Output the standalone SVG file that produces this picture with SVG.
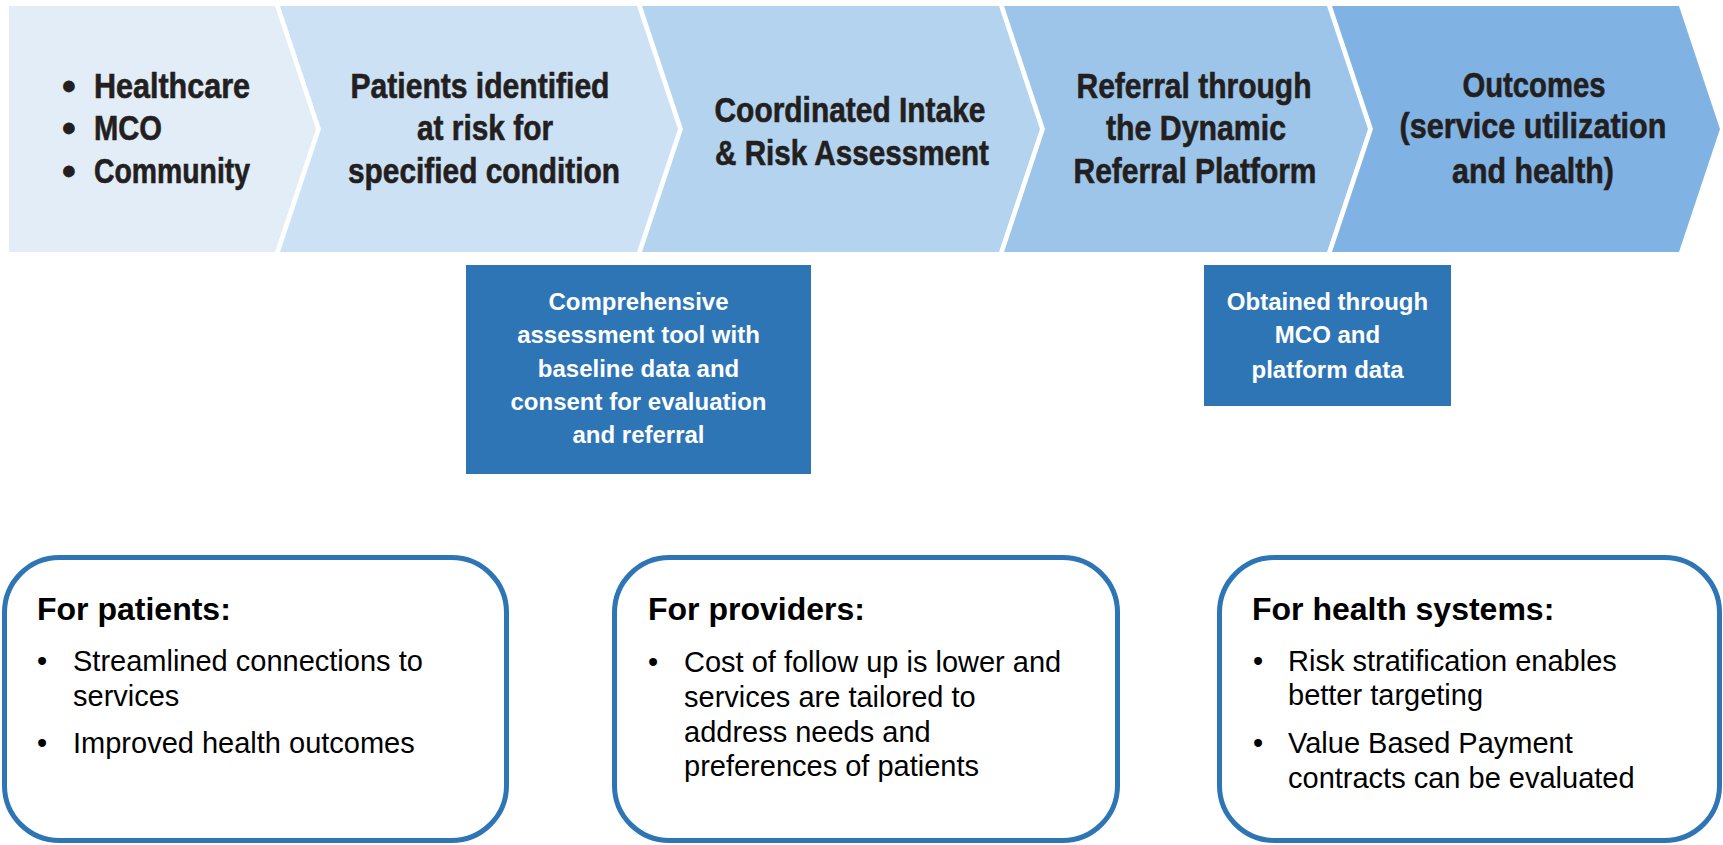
<svg xmlns="http://www.w3.org/2000/svg" width="1723" height="845" viewBox="0 0 1723 845">
<style>
.chev-t{font-family:"Liberation Sans",Arial,sans-serif;font-weight:bold;font-size:35px;fill:#231F20;stroke:#231F20;stroke-width:0.6px;text-anchor:middle}
.chev-b{font-family:"Liberation Sans",Arial,sans-serif;font-weight:bold;font-size:35px;fill:#231F20;stroke:#231F20;stroke-width:0.6px}
.dot{font-family:"Liberation Sans",Arial,sans-serif;font-weight:bold;font-size:38px;fill:#231F20;stroke:#231F20;stroke-width:0.8px;text-anchor:middle}
.box{fill:#2E75B6}
.box-t{font-family:"Liberation Sans",Arial,sans-serif;font-weight:bold;font-size:24px;fill:#FFFFFF;text-anchor:middle}
.card{fill:#FFFFFF;stroke:#2E75B6;stroke-width:5}
.card-h{font-family:"Liberation Sans",Arial,sans-serif;font-weight:bold;font-size:32px;fill:#000000}
.card-t{font-family:"Liberation Sans",Arial,sans-serif;font-size:29px;fill:#000000}
</style>
<rect width="1723" height="845" fill="#FFFFFF"/>
<g id="chevron-1">
<polygon points="9,6 275,6 316,129 275,252 9,252" fill="#E2EDF8"/>
<text class="dot" x="69" y="99">•</text>
<text class="dot" x="69" y="141">•</text>
<text class="dot" x="69" y="184">•</text>
<text class="chev-b" x="94" y="98" textLength="156" lengthAdjust="spacingAndGlyphs">Healthcare</text>
<text class="chev-b" x="94" y="140" textLength="68" lengthAdjust="spacingAndGlyphs">MCO</text>
<text class="chev-b" x="94" y="183" textLength="156" lengthAdjust="spacingAndGlyphs">Community</text>
</g>
<g id="chevron-2">
<polygon points="280,6 637,6 678,129 637,252 280,252 321,129" fill="#CDE1F4"/>
<text class="chev-t" x="480" y="98" textLength="259" lengthAdjust="spacingAndGlyphs">Patients identified</text>
<text class="chev-t" x="485" y="140" textLength="136" lengthAdjust="spacingAndGlyphs">at risk for</text>
<text class="chev-t" x="484" y="183" textLength="272" lengthAdjust="spacingAndGlyphs">specified condition</text>
</g>
<g id="chevron-3">
<polygon points="642,6 999,6 1040,129 999,252 642,252 683,129" fill="#B4D3EE"/>
<text class="chev-t" x="850" y="122" textLength="271" lengthAdjust="spacingAndGlyphs">Coordinated Intake</text>
<text class="chev-t" x="852" y="165" textLength="274" lengthAdjust="spacingAndGlyphs">&amp; Risk Assessment</text>
</g>
<g id="chevron-4">
<polygon points="1004,6 1327,6 1368,129 1327,252 1004,252 1045,129" fill="#9DC5E9"/>
<text class="chev-t" x="1194" y="98" textLength="235" lengthAdjust="spacingAndGlyphs">Referral through</text>
<text class="chev-t" x="1196" y="140" textLength="180" lengthAdjust="spacingAndGlyphs">the Dynamic</text>
<text class="chev-t" x="1195" y="183" textLength="243" lengthAdjust="spacingAndGlyphs">Referral Platform</text>
</g>
<g id="chevron-5">
<polygon points="1332,6 1679,6 1720,129 1679,252 1332,252 1373,129" fill="#80B3E3"/>
<text class="chev-t" x="1534" y="97" textLength="143" lengthAdjust="spacingAndGlyphs">Outcomes</text>
<text class="chev-t" x="1533" y="138" textLength="267" lengthAdjust="spacingAndGlyphs">(service utilization</text>
<text class="chev-t" x="1533" y="183" textLength="162" lengthAdjust="spacingAndGlyphs">and health)</text>
</g>
<g id="note-assessment">
<rect class="box" x="466" y="265" width="345" height="209"/>
<text class="box-t" x="638.5" y="310">Comprehensive</text>
<text class="box-t" x="638.5" y="343">assessment tool with</text>
<text class="box-t" x="638.5" y="377">baseline data and</text>
<text class="box-t" x="638.5" y="410">consent for evaluation</text>
<text class="box-t" x="638.5" y="443">and referral</text>
</g>
<g id="note-outcomes">
<rect class="box" x="1204" y="265" width="247" height="141"/>
<text class="box-t" x="1327.5" y="310">Obtained through</text>
<text class="box-t" x="1327.5" y="343">MCO and</text>
<text class="box-t" x="1327.5" y="378">platform data</text>
</g>
<g id="card-patients">
<rect class="card" x="4.5" y="557.5" width="502" height="283" rx="55" ry="55"/>
<text class="card-h" x="37" y="620">For patients:</text>
<text class="card-t" x="42" y="671" text-anchor="middle">•</text>
<text class="card-t" x="73" y="671">Streamlined connections to</text>
<text class="card-t" x="73" y="706">services</text>
<text class="card-t" x="42" y="753" text-anchor="middle">•</text>
<text class="card-t" x="73" y="753">Improved health outcomes</text>
</g>
<g id="card-providers">
<rect class="card" x="614.5" y="557.5" width="503" height="283" rx="55" ry="55"/>
<text class="card-h" x="648" y="620">For providers:</text>
<text class="card-t" x="653" y="672" text-anchor="middle">•</text>
<text class="card-t" x="684" y="672">Cost of follow up is lower and</text>
<text class="card-t" x="684" y="707">services are tailored to</text>
<text class="card-t" x="684" y="742">address needs and</text>
<text class="card-t" x="684" y="776">preferences of patients</text>
</g>
<g id="card-systems">
<rect class="card" x="1219.5" y="557.5" width="500" height="283" rx="55" ry="55"/>
<text class="card-h" x="1252" y="620">For health systems:</text>
<text class="card-t" x="1258" y="671" text-anchor="middle">•</text>
<text class="card-t" x="1288" y="671">Risk stratification enables</text>
<text class="card-t" x="1288" y="705">better targeting</text>
<text class="card-t" x="1258" y="753" text-anchor="middle">•</text>
<text class="card-t" x="1288" y="753">Value Based Payment</text>
<text class="card-t" x="1288" y="788">contracts can be evaluated</text>
</g>
<g id="connectors"></g>
</svg>
